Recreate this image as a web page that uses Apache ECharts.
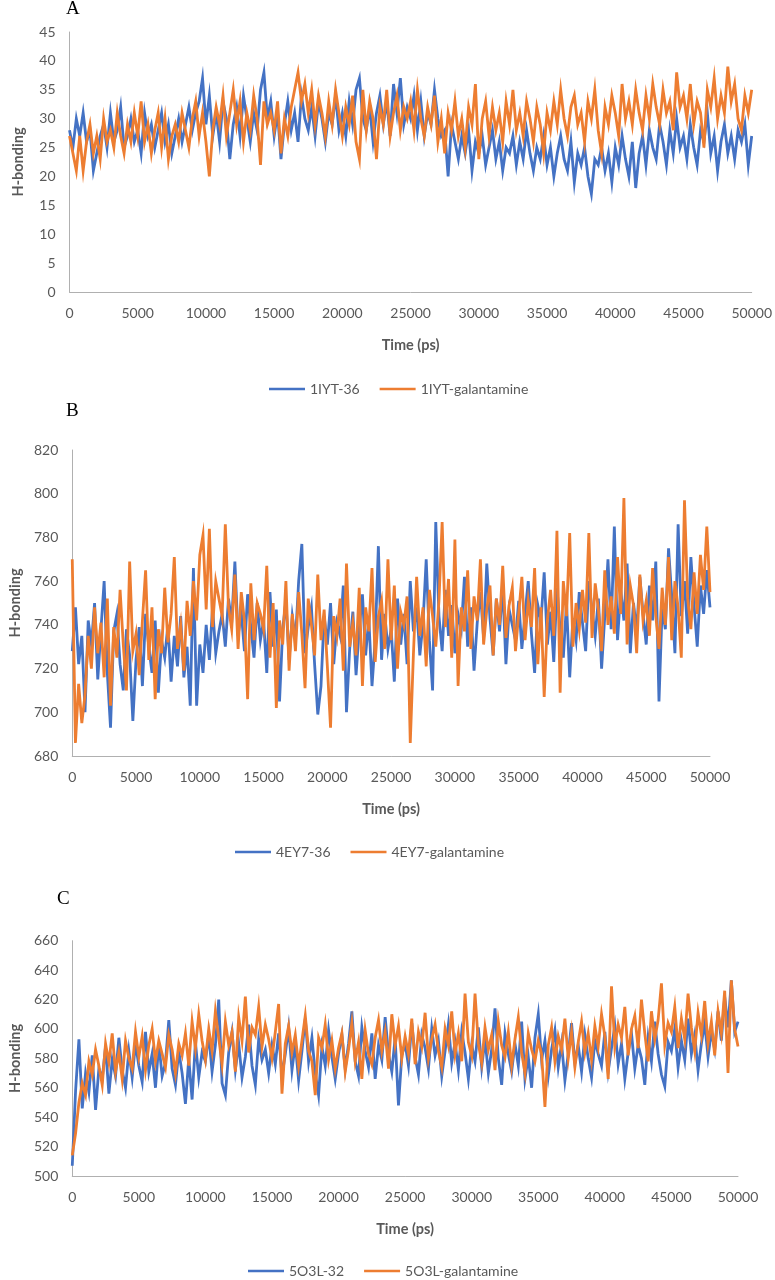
<!DOCTYPE html>
<html>
<head>
<meta charset="utf-8">
<script src="https://cdn.jsdelivr.net/npm/echarts@6/dist/echarts.min.js"></script>
<style>
html,body{margin:0;padding:0;background:#fff;}
#chart{width:775px;height:1280px;}
</style>
</head>
<body>
<div id="chart"></div>
<script>
// time step 250 ps, 0..50000
const times = [];
for (let t = 0; t <= 50000; t += 250) times.push(t);

const xTicks = [0,5000,10000,15000,20000,25000,30000,35000,40000,45000,50000];

const seriesNames = ['1IYT-36','1IYT-galantamine','4EY7-36','4EY7-galantamine','5O3L-32','5O3L-galantamine'];

const iyt36 = [
28,25,30,27,31,26,28,21,24,27,29,25,31,26,28,32,25,27,30,26,
28,24,31,27,29,25,28,31,26,29,24,27,30,26,29,32,28,31,33,37,
29,34,27,31,26,33,30,23,29,32,27,34,30,26,31,28,35,38,30,33,
27,31,23,29,33,28,31,26,34,30,28,32,27,33,30,26,31,29,34,28,
31,27,33,29,35,37,30,28,32,26,31,34,29,33,27,36,31,37,29,32,
30,34,28,33,27,31,29,35,30,27,28,20,29,26,23,27,24,28,21,26,
24,27,22,25,28,23,26,21,25,24,27,22,26,23,28,24,21,25,23,27,
22,25,20,24,27,23,21,26,19,24,22,25,20,17,23,22,25,21,24,19,
25,22,27,23,20,26,18,24,27,22,28,25,23,29,26,22,28,24,30,25,
27,23,29,25,22,28,26,31,24,27,21,26,29,24,27,23,28,26,29,22,27];

const iytGal = [
27,24,21,27,21,26,29,24,27,23,30,26,28,25,31,27,24,29,26,31,
27,33,26,29,24,28,31,25,30,23,27,29,26,31,28,25,30,33,27,31,
26,20,28,32,29,34,27,31,35,29,33,26,31,28,34,30,22,33,29,31,
28,33,24,30,27,32,35,38,33,36,31,35,29,34,31,27,33,29,35,31,
27,32,29,34,26,23,35,28,33,30,23,32,29,35,27,31,34,28,32,30,
33,28,35,30,27,32,29,34,26,30,24,31,28,33,27,30,25,32,29,36,
23,30,33,27,32,28,31,26,33,29,35,28,31,27,33,30,26,32,29,24,
31,28,33,29,35,30,27,32,34,29,31,26,33,30,35,28,24,32,29,34,
31,27,36,30,33,29,35,31,28,34,30,36,32,29,35,31,33,28,38,32,
34,30,36,29,33,31,25,35,32,37,30,34,31,39,33,36,30,28,34,31,35];

const ey736 = [
728,748,722,735,700,742,731,750,715,738,760,718,693,737,745,722,710,738,726,696,
724,739,712,745,730,718,742,709,733,725,740,714,735,721,744,716,730,703,766,703,
731,718,740,724,748,727,737,745,730,752,741,769,735,746,728,754,739,725,750,733,
742,718,755,730,747,705,738,751,724,744,733,760,777,727,739,748,722,699,712,744,
731,750,722,741,735,758,700,729,746,717,738,754,726,743,712,733,776,724,745,729,
738,714,752,731,745,722,760,737,748,726,741,770,733,710,787,744,728,756,735,749,
727,745,738,762,730,748,719,741,755,734,768,743,726,752,737,758,722,747,740,733,
751,729,745,760,736,718,749,742,764,731,746,723,757,738,725,750,716,743,733,755,
741,728,760,747,735,752,720,744,770,738,785,733,756,742,768,727,750,737,762,745,
731,758,742,769,705,748,738,775,753,727,786,744,760,736,771,749,730,758,745,765,748];

const ey7Gal = [
770,686,713,695,708,735,720,748,727,741,716,752,703,739,725,756,731,710,769,728,
736,717,742,765,724,748,706,738,727,757,732,745,771,729,740,719,751,735,760,742,
772,781,747,784,739,760,752,744,786,748,738,763,729,755,742,706,759,733,750,745,
738,767,725,750,702,742,731,760,719,745,728,755,736,711,752,740,726,763,733,747,
721,693,744,735,752,719,768,730,741,726,757,712,748,737,766,723,744,751,729,770,
733,758,720,746,740,753,686,727,762,735,748,721,756,744,730,751,787,739,761,725,
779,712,748,737,765,729,753,742,770,731,747,758,726,752,740,767,734,749,757,728,
745,762,733,751,739,766,722,748,707,742,756,735,783,709,760,744,782,730,750,738,
756,741,782,734,759,747,728,765,740,753,736,771,745,798,731,758,749,727,763,742,
751,735,766,744,729,757,740,771,733,760,748,725,797,752,738,764,745,772,756,785,755];

const o3l32 = [
507,558,593,546,570,557,582,545,573,566,588,556,579,568,594,572,560,585,567,590,
575,564,598,571,583,560,590,568,577,606,573,562,585,570,549,580,552,591,567,584,
578,596,571,589,620,563,555,584,598,572,590,567,581,603,575,562,593,579,586,570,
589,576,597,568,583,601,572,590,565,585,607,578,594,570,555,588,575,599,581,566,
583,596,573,590,612,578,568,601,585,574,597,566,589,579,608,583,571,594,548,582,
590,575,604,581,569,596,587,573,600,582,592,568,585,603,577,591,572,598,584,566,
589,578,601,574,593,570,586,614,580,562,597,583,571,590,575,605,566,581,560,594,
610,579,592,568,586,599,574,590,565,583,604,577,589,571,596,580,567,592,583,575,
598,571,587,602,576,590,566,584,597,573,589,580,562,594,578,605,583,569,561,591,
585,600,574,592,579,607,583,596,572,590,604,581,598,586,612,592,622,601,633,598,605];

const o3lGal = [
514,529,550,563,555,578,569,586,575,562,590,577,597,571,584,566,592,580,573,598,
581,595,572,589,600,578,592,583,574,596,586,570,590,582,597,575,605,587,610,592,
579,600,585,612,594,576,605,589,598,571,608,592,622,584,601,596,615,588,603,593,
580,598,617,556,590,602,584,596,575,592,609,585,578,555,594,587,603,579,592,573,
587,597,571,586,604,578,591,566,599,583,576,594,606,585,598,573,610,589,602,580,
595,583,607,576,598,588,611,580,593,603,585,574,600,589,612,583,597,578,624,591,
582,624,590,577,601,586,596,572,605,589,581,598,575,593,608,584,570,597,586,578,
592,583,547,589,601,578,595,586,607,580,598,574,591,605,584,597,579,602,588,610,
595,566,629,588,603,594,615,582,600,609,587,620,597,578,612,593,606,631,589,604,
598,615,587,607,593,624,601,585,611,596,619,590,605,582,612,597,626,570,633,600,588];

const BLUE = '#4472C4', ORANGE = '#ED7D31';
const FONT = 'Lato';
const GREY = '#595959';
const AXIS = '#b0b0b0';

function pairs(vals){ return vals.map((v,i)=>[times[i], v]); }

const grids = [
  {left:69.5, top:32, width:683.5, height:260},
  {left:62.7, top:450, width:647.3, height:306},
  {left:62.7, top:940.7, width:675.3, height:235.3}
];
const yRanges = [
  {min:0, max:45, interval:5, nameGap:44},
  {min:680, max:820, interval:20, nameGap:37.5},
  {min:500, max:660, interval:20, nameGap:37.5}
];

const xAxes = grids.map((g,i)=>({
  type:'value', gridIndex:i, min:0, max:50000, interval:5000,
  axisLine:{show:true, lineStyle:{color:AXIS, width:1}},
  axisTick:{show:false}, splitLine:{show:false},
  axisLabel:{color:GREY, fontFamily:FONT, fontSize:14, margin:14,
    formatter:(v)=> xTicks.indexOf(v) >= 0 ? String(v) : ''},
  name:'Time (ps)', nameLocation:'middle', nameGap:46,
  nameTextStyle:{color:GREY, fontFamily:FONT, fontSize:14.5, fontWeight:'bold'}
}));
const yAxes = yRanges.map((r,i)=>({
  type:'value', gridIndex:i, min:r.min, max:r.max, interval:r.interval,
  axisLine:{show:true, lineStyle:{color:AXIS, width:1}},
  axisTick:{show:false}, splitLine:{show:false},
  axisLabel:{color:GREY, fontFamily:FONT, fontSize:14, margin:14},
  name:'H-bonding', nameLocation:'middle', nameGap:r.nameGap, nameRotate:90,
  nameTextStyle:{color:GREY, fontFamily:FONT, fontSize:14.5, fontWeight:'bold'}
}));

const dataSets = [iyt36, iytGal, ey736, ey7Gal, o3l32, o3lGal];
const series = dataSets.map((d,k)=>({
  name: seriesNames[k], type:'line', xAxisIndex: Math.floor(k/2), yAxisIndex: Math.floor(k/2),
  data: pairs(d), showSymbol:false, symbol:'none', animation:false,
  lineStyle:{color: k%2 ? ORANGE : BLUE, width:2.8, join:'miter'}, itemStyle:{color: k%2 ? ORANGE : BLUE},
  z: k%2 ? 3 : 2
}));

const legendPos = [{left:264, top:377},{left:230, top:840},{left:243, top:1259}];
const legends = legendPos.map((p,i)=>({
  data:[seriesNames[2*i], seriesNames[2*i+1]], left:p.left, top:p.top,
  icon:'rect', itemWidth:36, itemHeight:2.5, itemGap:20,
  textStyle:{color:GREY, fontFamily:FONT, fontSize:14}
}));

const letters = [
  {text:'A', left:66, top:0},
  {text:'B', left:66, top:402},
  {text:'C', left:57, top:890}
];

const chart = echarts.init(document.getElementById('chart'), null, {renderer:'canvas'});
chart.setOption({
  animation:false,
  backgroundColor:'#ffffff',
  grid: grids,
  xAxis: xAxes,
  yAxis: yAxes,
  legend: legends,
  series: series,
  graphic: letters.map(l=>({type:'text', left:l.left, top:l.top,
    style:{text:l.text, font:'19px "Liberation Serif"', fill:'#000'}}))
});
</script>
</body>
</html>
